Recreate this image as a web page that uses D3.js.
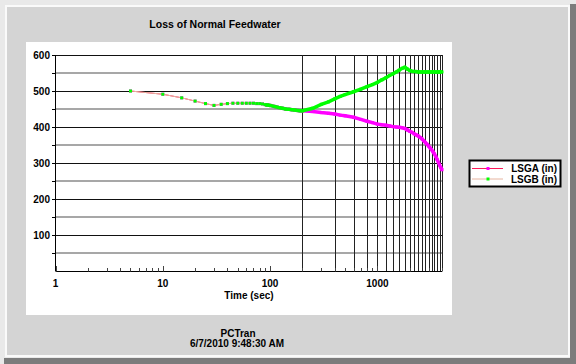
<!DOCTYPE html>
<html>
<head>
<meta charset="utf-8">
<script src="https://cdnjs.cloudflare.com/ajax/libs/d3/7.8.5/d3.min.js"></script>
<style>
  html, body { margin: 0; padding: 0; background: #e9e9e9; }
  svg { display: block; font-family: "Liberation Sans", Arial, sans-serif; }
</style>
</head>
<body>
<div id="chart"></div>
<script>
// Time samples (sec) and level readings (in)
const times = [5, 10, 15, 20, 25, 30, 35, 40, 45, 50, 55, 60, 65, 70, 75, 80, 85, 90, 95, 100,
  110, 120, 130, 140, 150, 160, 170, 180, 190, 200,
  250, 300, 350, 400, 450, 500, 600, 700, 800, 900, 1000,
  1100, 1200, 1300, 1400, 1500, 1600, 1700, 1800, 1900, 2000,
  2100, 2200, 2300, 2400, 2500, 2600, 2700, 2800, 2900, 3000,
  3100, 3200, 3300, 3400, 3500, 3600, 3700, 3800, 3900, 4000];

const lsga = [500, 491, 481, 472, 465, 460, 463, 465, 466, 466, 466, 466, 466, 466, 465, 465, 464, 462, 461, 460,
  457, 454, 452, 450, 449, 448, 447, 446, 445, 445,
  443, 440, 438, 436, 433, 431, 427, 421, 416, 412, 408,
  406, 405, 403, 401, 400, 399, 398, 396, 392, 388,
  385, 381, 378, 375, 371, 367, 362, 357, 352, 347,
  342, 337, 331, 325, 318, 310, 302, 294, 287, 281];

const lsgb = [500, 491, 481, 472, 465, 460, 463, 465, 466, 466, 466, 466, 466, 466, 465, 465, 464, 462, 461, 460,
  457, 454, 452, 450, 449, 448, 447, 446, 445, 445,
  452, 463, 470, 478, 485, 490, 498, 505, 512, 518, 524,
  531, 537, 543, 548, 553, 558, 563, 566, 561, 557,
  555, 554, 554, 553, 553, 553, 553, 553, 553, 553,
  553, 553, 553, 553, 553, 553, 553, 553, 553, 553];

const yTicks = [100, 200, 300, 400, 500, 600];
const yMinor = [50, 150, 250, 350, 450, 550];
const xLabels = [1, 10, 100, 1000];
const vGrid = d3.range(200, 4001, 200);

const series = [
  {name: "LSGA (in)", values: lsga, line: "#ff1a5a", mark: "#ff00ff"},
  {name: "LSGB (in)", values: lsgb, line: "#e6b4a0", mark: "#00ff00"}
];

const W = 576, H = 364;
const svg = d3.select("#chart").append("svg")
  .attr("width", W).attr("height", H);

// window frame
svg.append("rect").attr("width", W).attr("height", H).attr("fill", "#e9e9e9");
svg.append("rect").attr("x", 570).attr("y", 4).attr("width", 6).attr("height", H - 4).attr("fill", "#7c7c7c");
svg.append("rect").attr("x", 4).attr("y", 358).attr("width", W - 4).attr("height", 6).attr("fill", "#7c7c7c");
svg.append("rect").attr("x", 5).attr("y", 5).attr("width", 565).attr("height", 352).attr("fill", "#fafafa");
svg.append("rect").attr("x", 7).attr("y", 7).attr("width", 561).attr("height", 348).attr("fill", "#d4d4d4");

// white plot panel
svg.append("rect").attr("x", 26).attr("y", 42).attr("width", 426).attr("height", 273).attr("fill", "#fff");

const x = d3.scaleLog().domain([1, 4000]).range([55.5, 442]);
const y = d3.scaleLinear().domain([0, 600]).range([271, 55]);

const g = svg.append("g");

// horizontal grid
g.selectAll(".hmin").data(yMinor).join("line")
  .attr("x1", x(1)).attr("x2", x(4000))
  .attr("y1", d => y(d)).attr("y2", d => y(d))
  .attr("stroke", "#8a8a8a").attr("stroke-width", 1.6);
g.selectAll(".hmaj").data(yTicks).join("line")
  .attr("x1", x(1)).attr("x2", x(4000))
  .attr("y1", d => Math.round(y(d)) + 0.5).attr("y2", d => Math.round(y(d)) + 0.5)
  .attr("stroke", "#111").attr("stroke-width", 1);

// vertical grid (every 200 sec)
g.selectAll(".vg").data(vGrid).join("line")
  .attr("x1", d => Math.round(x(d)) + 0.5).attr("x2", d => Math.round(x(d)) + 0.5)
  .attr("y1", y(600)).attr("y2", y(0))
  .attr("stroke", "#222").attr("stroke-width", 1);

// left axis
g.append("line").attr("x1", 55.5).attr("x2", 55.5).attr("y1", y(600)).attr("y2", y(0))
  .attr("stroke", "#000");
g.selectAll(".yt").data(yTicks.concat(yMinor)).join("line")
  .attr("x1", 52).attr("x2", 55.5)
  .attr("y1", d => Math.round(y(d)) + 0.5).attr("y2", d => Math.round(y(d)) + 0.5)
  .attr("stroke", "#000");
g.selectAll(".yl").data(yTicks).join("text")
  .attr("x", 50).attr("y", d => y(d) + 3.6)
  .attr("text-anchor", "end").attr("font-size", "10px").attr("font-weight", "bold")
  .text(d => d);

// bottom axis
g.append("line").attr("x1", 55.5).attr("x2", 442).attr("y1", 271.5).attr("y2", 271.5)
  .attr("stroke", "#000");
const minorX = x.ticks().filter(t => t <= 4000);
g.selectAll(".xt").data(minorX).join("line")
  .attr("x1", d => Math.round(x(d)) + 0.5).attr("x2", d => Math.round(x(d)) + 0.5)
  .attr("y1", 271.5).attr("y2", d => xLabels.includes(d) ? 266 : 268)
  .attr("stroke", "#444");
g.selectAll(".xl").data(xLabels).join("text")
  .attr("x", d => x(d)).attr("y", 287)
  .attr("text-anchor", "middle").attr("font-size", "10px").attr("font-weight", "bold")
  .text(d => d);
g.append("text").attr("x", 249).attr("y", 299)
  .attr("text-anchor", "middle").attr("font-size", "10px").attr("font-weight", "bold")
  .text("Time (sec)");

// series
const pts = s => times.map((t, i) => [t, s.values[i]]);
const line = d3.line().x(d => x(d[0])).y(d => y(d[1]));

series.forEach(s => {
  const p = pts(s);
  g.append("path").attr("d", line(p)).attr("fill", "none")
    .attr("stroke", s.line).attr("stroke-width", 1);
  // dense sampling in the original shows as a solid band
  g.append("path").attr("d", line(p.filter(d => d[0] >= 90))).attr("fill", "none")
    .attr("stroke", s.mark).attr("stroke-width", 3.5);
  g.selectAll(null).data(p).join("rect")
    .attr("x", d => x(d[0]) - 1.5).attr("y", d => y(d[1]) - 1.5)
    .attr("width", 3).attr("height", 3).attr("fill", s.mark);
});

// title and footer
svg.append("text").attr("x", 215).attr("y", 28)
  .attr("text-anchor", "middle").attr("font-size", "10.5px").attr("font-weight", "bold")
  .text("Loss of Normal Feedwater");
svg.append("text").attr("x", 238).attr("y", 337)
  .attr("text-anchor", "middle").attr("font-size", "10px").attr("font-weight", "bold")
  .text("PCTran");
svg.append("text").attr("x", 237).attr("y", 347)
  .attr("text-anchor", "middle").attr("font-size", "10px").attr("font-weight", "bold")
  .text("6/7/2010 9:48:30 AM");

// legend
const lg = svg.append("g");
lg.append("rect").attr("x", 469.5).attr("y", 160.5).attr("width", 91).attr("height", 26)
  .attr("fill", "#fff").attr("stroke", "#000").attr("stroke-width", 2);
series.forEach((s, i) => {
  const ly = 168.5 + i * 10.5;
  lg.append("line").attr("x1", 472).attr("x2", 503).attr("y1", ly).attr("y2", ly)
    .attr("stroke", s.line).attr("stroke-width", 1);
  lg.append("rect").attr("x", 486.5).attr("y", ly - 1.5).attr("width", 3).attr("height", 3)
    .attr("fill", s.mark);
  lg.append("text").attr("x", 557).attr("y", ly + 3.6)
    .attr("text-anchor", "end").attr("font-size", "10px").attr("font-weight", "bold")
    .text(s.name);
});
</script>
</body>
</html>
